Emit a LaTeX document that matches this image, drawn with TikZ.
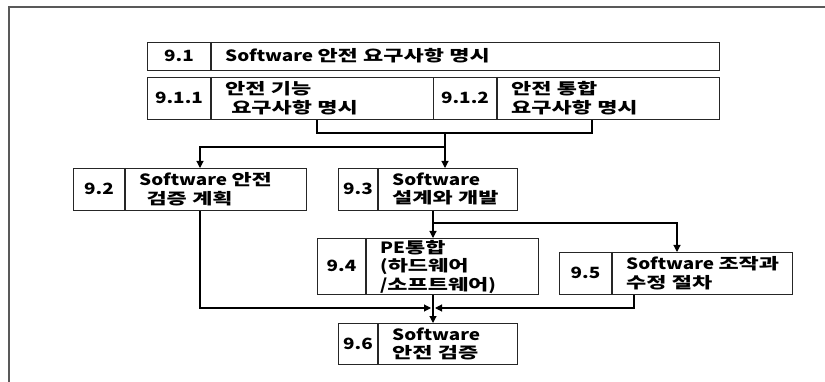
\documentclass[tikz,border=0pt]{standalone}
\usepackage{fontspec}
\usepackage{graphicx}
\setmainfont{Noto Sans CJK KR}
\usetikzlibrary{arrows.meta}
\tikzset{
  boxst/.style={draw=black!85, line width=1.4pt, rectangle, inner sep=0pt},
  boxline/.style={draw=black!85, line width=1.4pt},
  numst/.style={font=\fontsize{15.5}{17.5}\selectfont\bfseries, inner sep=0pt},
  txtst/.style={font=\fontsize{15.5}{17.5}\selectfont\bfseries, inner sep=0pt, anchor=west},
  conn/.style={draw=black, line width=1.1pt},
  arr/.style={conn, -{Triangle[length=7pt,width=7pt]}},
  frame/.style={draw=black!65, line width=1.6pt}
}
\newcommand{\K}[1]{\scalebox{1.16}[1]{\spaceskip=3.8pt\relax #1}}
\newcommand{\lbl}[1]{\scalebox{1.22}[1]{\begin{tabular}{@{}l@{}}#1\end{tabular}}}
\newcommand{\fbx}[8]{%
  \node[boxst, minimum width={(#4-#2)*1pt}, minimum height={(#5-#3)*1pt}, anchor=north west] (#1) at (#2,#3) {};
  \draw[boxline] (#6,#3) -- (#6,#5);
  \node[numst] (#1n) at ({(#2+#6)/2},{(#3+#5)/2}) {\scalebox{1.22}[1]{#7}};
  \node[txtst] (#1t) at (#6+14,{(#3+#5)/2+2}) {\lbl{#8}};
}
\begin{document}
\begin{tikzpicture}[x=1pt,y=-1pt]
\useasboundingbox (0,0) rectangle (825,382);
\coordinate (fa) at (9,382);
\coordinate (fb) at (9,7);
\coordinate (fc) at (825,7);
\draw[frame] (fa) -- (fb) -- (fc);

\fbx{b91}{147}{42}{719}{70}{211}{9.1}{Software \K{안전 요구사항 명시}}
\fbx{b911}{147}{77}{433}{119}{211}{9.1.1}{\K{안전 기능}\\\hspace{5pt}\K{요구사항 명시}}
\fbx{b912}{433}{77}{719}{119}{497}{9.1.2}{\K{안전 통합}\\\K{요구사항 명시}}
\fbx{b92}{73}{168}{306}{210}{125}{9.2}{Software \K{안전}\\\hspace{6pt}\K{검증 계획}}
\fbx{b93}{338}{168}{517}{210}{378}{9.3}{Software\\\K{설계와 개발}}
\fbx{b94}{317}{238}{538}{294}{366}{9.4}{PE\K{통합}\\(\K{하드웨어}\\/\K{소프트웨어})}
\fbx{b95}{559}{252}{792}{294}{612}{9.5}{Software \K{조작과}\\\K{수정 절차}}
\fbx{b96}{338}{323}{517}{364}{378}{9.6}{Software\\\K{안전 검증}}

% merge of 9.1.1 and 9.1.2
\coordinate (m1) at (317,133);
\coordinate (m2) at (592,133);
\coordinate (m3) at (445,133);
\coordinate (m4) at (445,147);
\coordinate (m5) at (200,147);
\draw[conn] (b911.south -| m1) -- (m1) -- (m2) -- (b912.south -| m2);
\draw[arr] (m3) -- (b93.north -| m3);
\draw[arr] (m4) -- (m5) -- (b92.north -| m5);

% 9.3 to 9.4 and 9.5
\coordinate (s1) at (433,223);
\coordinate (s2) at (677,223);
\draw[arr] (b93.south -| s1) -- (b94.north -| s1);
\draw[arr] (s1) -- (s2) -- (b95.north -| s2);

% to 9.6
\coordinate (j1) at (200,308);
\coordinate (j2) at (431,308);
\coordinate (j3) at (634,308);
\coordinate (j4) at (435,308);
\draw[arr] (b94.south -| s1) -- (b96.north -| s1);
\draw[arr] (b92.south -| j1) -- (j1) -- (j2);
\draw[arr] (b95.south -| j3) -- (j3) -- (j4);
\end{tikzpicture}
\end{document}
